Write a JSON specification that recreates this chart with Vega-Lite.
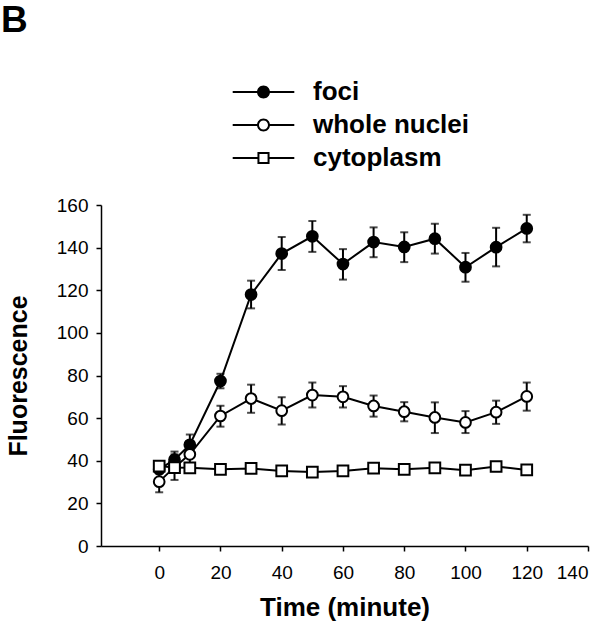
{
  "$schema": "https://vega.github.io/schema/vega-lite/v6.json",
  "width": 487,
  "height": 341,
  "autosize": {"type": "none"},
  "padding": {"left": 101, "top": 205, "right": 21, "bottom": 94},
  "background": "white",
  "title": {"text": "B", "anchor": "start", "frame": "group", "dx": -100, "dy": -35, "fontSize": 37, "font": "Liberation Sans", "fontWeight": "bold", "color": "black"},
  "config": {
    "view": {"stroke": null},
    "axis": {
      "grid": false,
      "domainColor": "black",
      "domainWidth": 1.5,
      "tickColor": "black",
      "tickWidth": 1.5,
      "tickSize": 5,
      "labelFont": "Liberation Sans",
      "labelFontSize": 19,
      "labelColor": "black",
      "titleFont": "Liberation Sans",
      "titleFontWeight": "bold",
      "titleColor": "black"
    },
    "legend": {
      "orient": "none",
      "legendX": 149.5,
      "legendY": -126,
      "title": null,
      "labelFont": "Liberation Sans",
      "labelFontSize": 26,
      "labelFontWeight": "bold",
      "labelColor": "black",
      "labelLimit": 300,
      "symbolSize": 121,
      "symbolFillColor": "black",
      "symbolStrokeColor": "black",
      "symbolStrokeWidth": 2,
      "symbolOpacity": 1,
      "labelOffset": 36.5,
      "rowPadding": 7,
      "padding": 0
    }
  },
  "data": {
    "values": [
      {"t": 0, "series": "foci", "v": 36, "lo": 34, "hi": 38},
      {"t": 5, "series": "foci", "v": 40.5, "lo": 37, "hi": 44.3},
      {"t": 10, "series": "foci", "v": 47.5, "lo": 43, "hi": 52.3},
      {"t": 20, "series": "foci", "v": 77.4, "lo": 74, "hi": 80.8},
      {"t": 30, "series": "foci", "v": 118, "lo": 111.5, "hi": 124.5},
      {"t": 40, "series": "foci", "v": 137.2, "lo": 129.5, "hi": 145},
      {"t": 50, "series": "foci", "v": 145.3, "lo": 138, "hi": 152.5},
      {"t": 60, "series": "foci", "v": 132.3, "lo": 125, "hi": 139.3},
      {"t": 70, "series": "foci", "v": 142.6, "lo": 135.5, "hi": 149.5},
      {"t": 80, "series": "foci", "v": 140.3, "lo": 133.2, "hi": 147.2},
      {"t": 90, "series": "foci", "v": 144.2, "lo": 137.2, "hi": 151.2},
      {"t": 100, "series": "foci", "v": 130.8, "lo": 124, "hi": 137.5},
      {"t": 110, "series": "foci", "v": 140.2, "lo": 131.2, "hi": 149.3},
      {"t": 120, "series": "foci", "v": 149, "lo": 142.5, "hi": 155.4},
      {"t": 0, "series": "whole nuclei", "v": 30.2, "lo": 25.2, "hi": 35.2},
      {"t": 5, "series": "whole nuclei", "v": 37, "lo": 31, "hi": 43},
      {"t": 10, "series": "whole nuclei", "v": 43, "lo": 38.5, "hi": 47.5},
      {"t": 20, "series": "whole nuclei", "v": 61, "lo": 56, "hi": 65.8},
      {"t": 30, "series": "whole nuclei", "v": 69.2, "lo": 62.5, "hi": 75.7},
      {"t": 40, "series": "whole nuclei", "v": 63.5, "lo": 57, "hi": 69.8},
      {"t": 50, "series": "whole nuclei", "v": 70.8, "lo": 65, "hi": 76.7},
      {"t": 60, "series": "whole nuclei", "v": 70, "lo": 65, "hi": 75},
      {"t": 70, "series": "whole nuclei", "v": 65.7, "lo": 60.7, "hi": 70.6},
      {"t": 80, "series": "whole nuclei", "v": 63, "lo": 58.5, "hi": 67.5},
      {"t": 90, "series": "whole nuclei", "v": 60.3, "lo": 53, "hi": 67.4},
      {"t": 100, "series": "whole nuclei", "v": 58, "lo": 53, "hi": 63.3},
      {"t": 110, "series": "whole nuclei", "v": 62.8, "lo": 57.3, "hi": 68.2},
      {"t": 120, "series": "whole nuclei", "v": 70.2, "lo": 63.5, "hi": 76.7},
      {"t": 0, "series": "cytoplasm", "v": 37.5, "lo": 35.5, "hi": 39.5},
      {"t": 5, "series": "cytoplasm", "v": 36.8, "lo": 35, "hi": 38.6},
      {"t": 10, "series": "cytoplasm", "v": 36.7, "lo": 34.9, "hi": 38.5},
      {"t": 20, "series": "cytoplasm", "v": 36, "lo": 34.2, "hi": 37.8},
      {"t": 30, "series": "cytoplasm", "v": 36.4, "lo": 34.4, "hi": 38.4},
      {"t": 40, "series": "cytoplasm", "v": 35.2, "lo": 33.4, "hi": 37},
      {"t": 50, "series": "cytoplasm", "v": 34.7, "lo": 32.9, "hi": 36.5},
      {"t": 60, "series": "cytoplasm", "v": 35.2, "lo": 33.4, "hi": 37},
      {"t": 70, "series": "cytoplasm", "v": 36.5, "lo": 34.7, "hi": 38.3},
      {"t": 80, "series": "cytoplasm", "v": 36, "lo": 34.2, "hi": 37.8},
      {"t": 90, "series": "cytoplasm", "v": 36.7, "lo": 34.9, "hi": 38.5},
      {"t": 100, "series": "cytoplasm", "v": 35.6, "lo": 33.8, "hi": 37.4},
      {"t": 110, "series": "cytoplasm", "v": 37.3, "lo": 35.5, "hi": 39.1},
      {"t": 120, "series": "cytoplasm", "v": 35.7, "lo": 33.9, "hi": 37.5}
    ]
  },
  "encoding": {
    "x": {
      "field": "t",
      "type": "quantitative",
      "scale": {"domain": [-19, 140], "nice": false, "zero": false},
      "axis": {"values": [0, 20, 40, 60, 80, 100, 120, 140], "title": "Time (minute)", "titleFontSize": 26, "labelPadding": 12, "titlePadding": 12}
    }
  },
  "resolve": {
    "scale": {"shape": "independent"},
    "legend": {"shape": "independent"}
  },
  "layer": [
    {
      "mark": {"type": "line", "color": "black", "strokeWidth": 2},
      "encoding": {
        "y": {"field": "v", "type": "quantitative", "title": "Fluorescence", "scale": {"domain": [0, 160], "nice": false}, "axis": {"values": [0, 20, 40, 60, 80, 100, 120, 140, 160], "titleFontSize": 25, "labelPadding": 8, "titlePadding": 25}},
        "detail": {"field": "series"}
      }
    },
    {
      "mark": {"type": "errorbar", "color": "black", "ticks": {"size": 8, "thickness": 2, "color": "black"}, "rule": {"strokeWidth": 2, "color": "black"}},
      "encoding": {
        "y": {"field": "lo", "type": "quantitative", "title": "Fluorescence"},
        "y2": {"field": "hi"}
      }
    },
    {
      "mark": {"type": "point", "filled": true, "stroke": "black", "strokeWidth": 2, "opacity": 1, "size": 115},
      "encoding": {
        "y": {"field": "v", "type": "quantitative", "title": "Fluorescence"},
        "shape": {
          "field": "series",
          "type": "nominal",
          "scale": {"domain": ["foci", "whole nuclei", "cytoplasm"], "range": ["circle", "circle", "square"]},
          "legend": null
        },
        "fill": {
          "field": "series",
          "type": "nominal",
          "scale": {"domain": ["foci", "whole nuclei", "cytoplasm"], "range": ["black", "white", "white"]},
          "legend": null
        }
      }
    },
    {
      "transform": [{"filter": "datum.t < -100"}],
      "mark": {"type": "point", "filled": true, "fill": "black", "stroke": "black", "strokeWidth": 2, "opacity": 1},
      "encoding": {
        "y": {"field": "v", "type": "quantitative", "title": "Fluorescence"},
        "shape": {
          "field": "series",
          "type": "nominal",
          "scale": {"domain": ["foci", "whole nuclei", "cytoplasm"], "range": [
            "M-5.6,-0.18H-1V0.18H-5.6ZM1,-0.18H5.6V0.18H1ZM-1.18,0A1.18,1.18 0 1,1 1.18,0A1.18,1.18 0 1,1 -1.18,0Z",
            "M-5.6,-0.18H-1V0.18H-5.6ZM1,-0.18H5.6V0.18H1ZM-1.18,0A1.18,1.18 0 1,1 1.18,0A1.18,1.18 0 1,1 -1.18,0ZM-0.82,0A0.82,0.82 0 1,0 0.82,0A0.82,0.82 0 1,0 -0.82,0Z",
            "M-5.6,-0.18H-0.9V0.18H-5.6ZM0.9,-0.18H5.6V0.18H0.9ZM-1.1,-1.1H1.1V1.1H-1.1ZM-0.74,-0.74V0.74H0.74V-0.74Z"
          ]},
          "legend": {"title": null}
        }
      }
    }
  ]
}
